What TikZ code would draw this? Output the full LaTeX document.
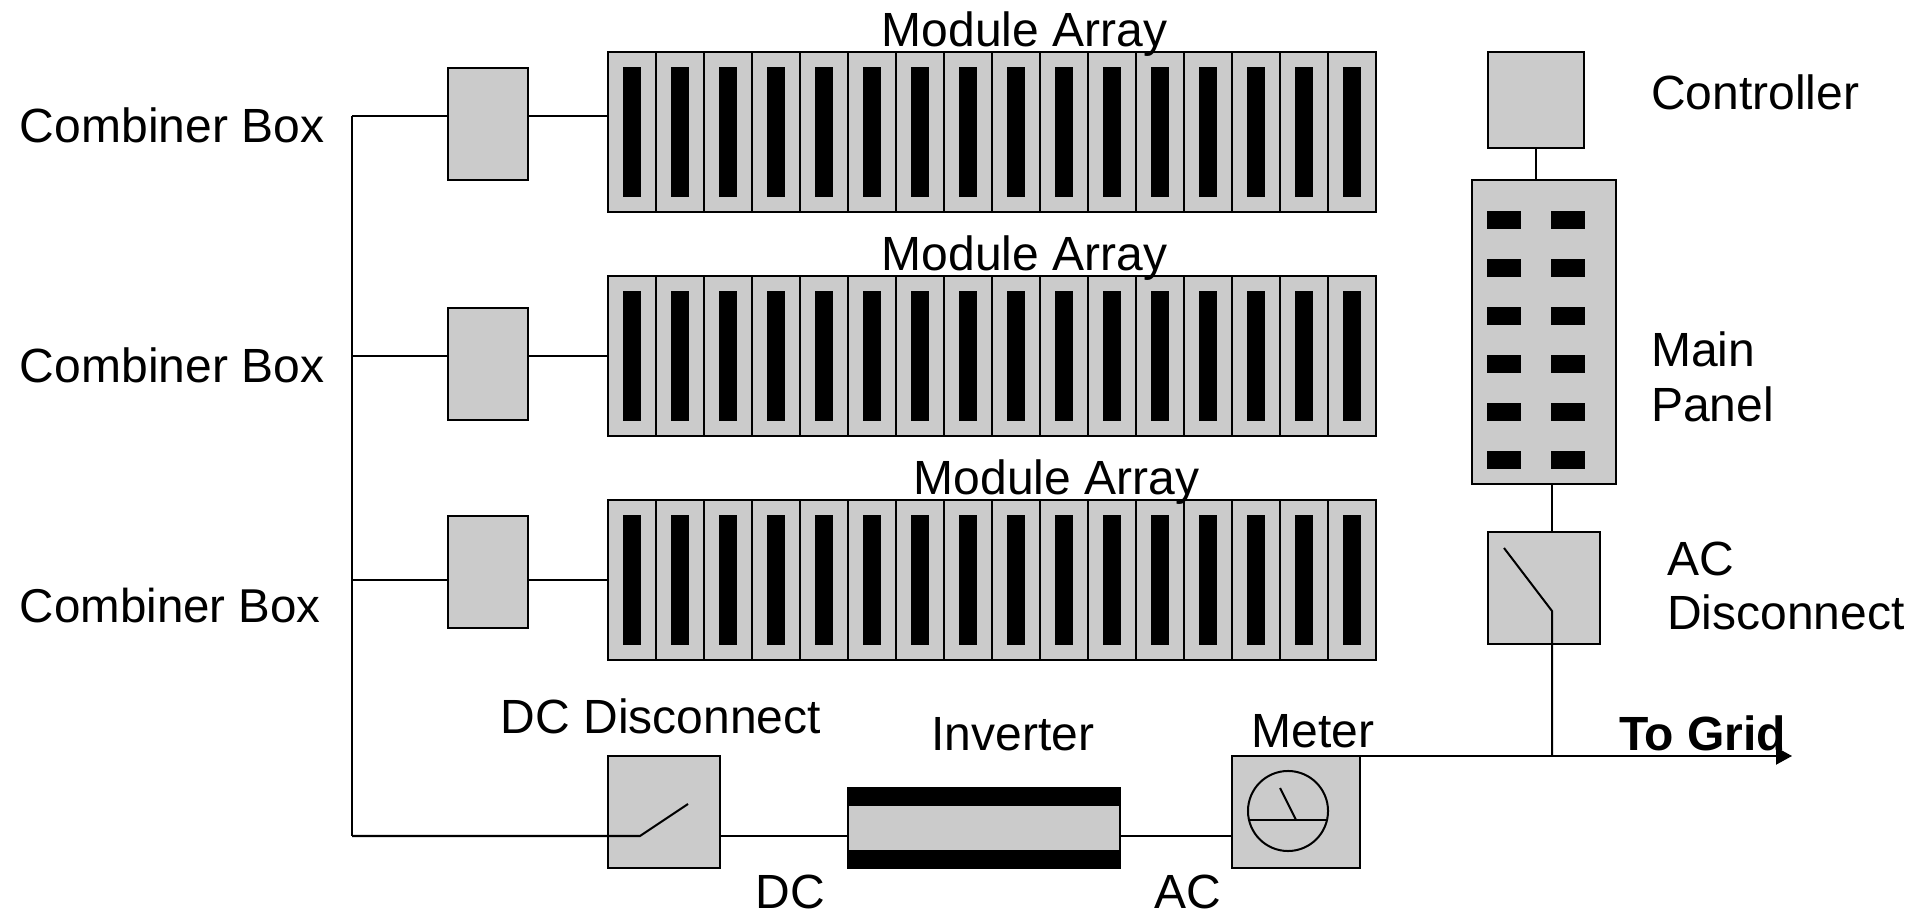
\documentclass[tikz,border=0pt]{standalone}
\usepackage{fontspec}
\setmainfont{Liberation Sans}
\usetikzlibrary{positioning, arrows.meta}
\definecolor{boxgray}{HTML}{CBCBCB}

\begin{document}
\begin{tikzpicture}[
  x=0.01cm, y=-0.01cm,
  % ---- Style definitions ----
  boxnode/.style={
    draw=black, fill=boxgray, line width=0.02cm, outer sep=0pt, inner sep=0pt
  },
  panel/.style={
    boxnode, anchor=north west, minimum width=0.48cm, minimum height=1.60cm
  },
  slot/.style={
    fill=black, outer sep=0pt, inner sep=0pt, minimum width=0.18cm, minimum height=1.30cm
  },
  breaker/.style={
    fill=black, anchor=north west, outer sep=0pt, inner sep=0pt,
    minimum width=0.34cm, minimum height=0.18cm
  },
  combiner/.style={
    boxnode, minimum width=0.80cm, minimum height=1.12cm
  },
  switchbox/.style={
    boxnode, anchor=north west, minimum width=1.12cm, minimum height=1.12cm
  },
  invband/.style={
    fill=black, outer sep=0pt, inner sep=0pt, minimum width=2.74cm, minimum height=0.18cm
  },
  wire/.style={
    line width=0.02cm, color=black
  },
  lbl/.style={
    font=\fontsize{13.65}{15.6}\selectfont, inner sep=0pt, outer sep=0pt, align=left
  },
]
\useasboundingbox (0,0) rectangle (1915,913);

% ---- Module arrays ----
\foreach \r/\ry in {1/52, 2/276, 3/500} {
  \foreach \c in {1,...,16} {
    \node[panel] (a\r p\c) at ({608+48*(\c-1)},\ry) {};
    \node[slot] (a\r s\c) at (a\r p\c) {};
  }
}

% ---- Combiner boxes and bus ----
\node[combiner] (cb1) at (488,124) {};
\node[combiner] (cb2) at (488,364) {};
\node[combiner] (cb3) at (488,572) {};

\coordinate (bus1) at (352,116);
\coordinate (bus2) at (352,356);
\coordinate (bus3) at (352,580);
\coordinate (bus4) at (352,836);

\foreach \r in {1,2,3} {
  \draw[wire] (bus\r) -- (bus\r -| cb\r.west);
  \draw[wire] (bus\r -| cb\r.east) -- (bus\r -| a\r p1.west);
}
\draw[wire] (bus1) -- (bus4);

% ---- Bottom row (left to right) ----
\node[switchbox] (dcbox) at (608,756) {};

\node[invband] (invtop) at (984,796) {};
\node[boxnode, minimum width=2.72cm, minimum height=0.46cm, below=0cm of invtop] (inv) {};
\node[invband, below=0cm of inv] (invbot) {};

\node[boxnode, anchor=north west, minimum width=1.28cm, minimum height=1.12cm] (meter) at (1232,756) {};
\node[draw=black, circle, line width=0.02cm, inner sep=0pt, outer sep=0pt, minimum size=0.80cm] (dial) at (1288,811) {};

\coordinate (dcpivot) at (640,836);
\coordinate (dcblade) at (688,804);
\coordinate (needle) at (1280,788);
\coordinate (needlebase) at (1296,820);

\draw[wire] (bus4) -- (dcpivot) -- (dcblade);
\draw[wire] (dcbox.east |- bus4) -- (inv.west |- bus4);
\draw[wire] (inv.east |- bus4) -- (meter.west |- bus4);
\draw[wire] (1249,820) coordinate (dialw) -- (1327,820) coordinate (diale);
\draw[wire] (needlebase) -- (needle);

% ---- Right column ----
\node[boxnode, anchor=north west, minimum width=0.96cm, minimum height=0.96cm] (ctrl) at (1488,52) {};
\node[boxnode, anchor=north west, minimum width=1.44cm, minimum height=3.04cm] (mainp) at (1472,180) {};
\node[switchbox] (acbox) at (1488,532) {};

\foreach \n/\by in {1/211, 2/259, 3/307, 4/355, 5/403, 6/451} {
  \node[breaker] (bl\n) at (1487,\by) {};
  \node[breaker] (br\n) at (1551,\by) {};
}

\coordinate (acpivot) at (1552,611);
\coordinate (acblade) at (1504,548);
\coordinate (gridtap) at (1552,756);
\coordinate (grid) at (1792,756);

\draw[wire] (ctrl) -- (ctrl |- mainp.north);
\draw[wire] (acpivot |- mainp.south) -- (acpivot |- acbox.north);
\draw[wire] (acblade) -- (acpivot) -- (gridtap);
\draw[wire, -{Triangle[length=0.16cm, width=0.17cm]}] (meter.north east) -- (grid);

% ---- Labels ----
\node[lbl, anchor=base west] (lcb1) at (20,143) {Combiner Box};
\node[lbl, anchor=base west] (lcb2) at (20,383) {Combiner Box};
\node[lbl, anchor=base west, font=\fontsize{13.5}{15.6}\selectfont] (lcb3) at (20,623) {Combiner Box};

\node[lbl, anchor=base] (lma1) at (1024.5,47) {Module Array};
\node[lbl, anchor=base] (lma2) at (1024.5,271) {Module Array};
\node[lbl, anchor=base] (lma3) at (1056.5,495) {Module Array};

\node[lbl, anchor=base west] (lctrl) at (1651,110) {Controller};
\node[lbl, anchor=west] (lmain) at (1651,377) {Main\\Panel};
\node[lbl, anchor=west] (lac) at (1667,586) {AC\\Disconnect};

\node[lbl, anchor=base] (ldc) at (661,734) {DC Disconnect};
\node[lbl, anchor=base] (linv) at (1013,751) {Inverter};
\node[lbl, anchor=base] (lmeter) at (1313,748) {Meter};
\node[lbl, anchor=base west, font=\fontsize{13.65}{15.6}\selectfont\bfseries] (lgrid) at (1619,751) {To Grid};

\node[lbl, anchor=base] (ldcside) at (790,908) {DC};
\node[lbl, anchor=base] (lacside) at (1188,908) {AC};

\end{tikzpicture}
\end{document}
